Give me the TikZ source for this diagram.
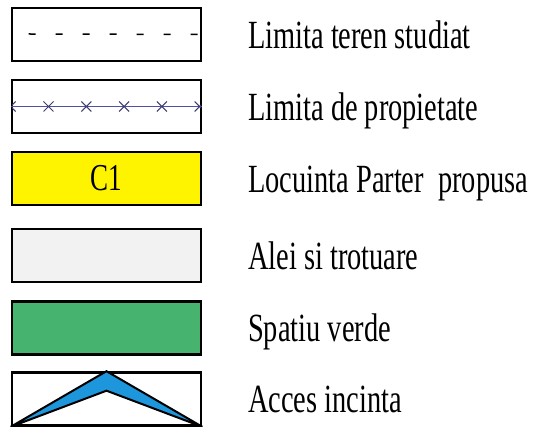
\documentclass[tikz,border=0pt]{standalone}
\usepackage{fontspec}
\setmainfont[FakeStretch=0.71]{Liberation Serif}
\usetikzlibrary{positioning}

\definecolor{locyellow}{RGB}{255,244,0}
\definecolor{aleigray}{RGB}{242,242,242}
\definecolor{verdegreen}{RGB}{70,180,110}
\definecolor{accesblue}{RGB}{30,150,220}
\definecolor{propblue}{RGB}{80,80,170}
\definecolor{propmark}{RGB}{60,60,110}

\begin{document}
\begin{tikzpicture}[x=1pt,y=-1pt]
\tikzset{
  legendbox/.style={rectangle,draw,line width=2.6pt,minimum width=189pt,minimum height=53pt,inner sep=0pt},
  legendtext/.style={anchor=base west,inner sep=0pt,font=\fontsize{40}{48}\selectfont},
  boxlabel/.style={inner sep=0pt,font=\fontsize{38}{46}\selectfont},
  terenline/.style={line width=1.5pt,dash pattern=on 7pt off 20pt},
  propline/.style={propblue,line width=0.9pt},
  propcross/.style={propmark,line width=1pt},
  accesshape/.style={fill=accesblue,draw=black,line width=2pt}
}
\useasboundingbox (0,0) rectangle (541,427);
\node[legendbox] (b_teren) at (106.5,34.5) {};
\node[legendbox] (b_prop) at (106.5,106.5) {};
\node[legendbox,fill=locyellow] (b_loc) at (106.5,178.5) {};
\node[legendbox,fill=aleigray] (b_alei) at (106.5,255.5) {};
\node[legendbox,fill=verdegreen] (b_verde) at (106.5,328) {};
\node[legendbox] (b_acces) at (106.5,399) {};
\node[boxlabel] (l_c1) at (b_loc.center) {C1};
% linii in casete
\draw[terenline] ([xshift=18pt,yshift=0.5pt]b_teren.west) -- (b_teren.east);
\draw[propline] (b_prop.west) -- (b_prop.east);
\begin{scope}
  \clip ([shift={(1.3,1.3)}]b_prop.north west) rectangle ([shift={(-1.3,-1.3)}]b_prop.south east);
  \foreach \k in {0,...,5}
    \draw[propcross] ([xshift=37.8*\k pt]b_prop.west) ++(-5,-5) -- ++(10,10) ++(0,-10) -- ++(-10,10);
\end{scope}
\filldraw[accesshape] (b_acces.south west) -- (b_acces.north) -- (b_acces.south east)
  -- ([yshift=-19.5pt]b_acces.north) -- cycle;
% texte legenda
\node[legendtext] (t_teren) at (248,49) {Limita teren studiat};
\node[legendtext] (t_prop) at (248,121) {Limita de propietate};
\node[legendtext] (t_loc) at (248,193) {Locuinta Parter\ \ propusa};
\node[legendtext] (t_alei) at (248,270) {Alei si trotuare};
\node[legendtext] (t_verde) at (248,342) {Spatiu verde};
\node[legendtext] (t_acces) at (248,413) {Acces incinta};
\end{tikzpicture}
\end{document}
